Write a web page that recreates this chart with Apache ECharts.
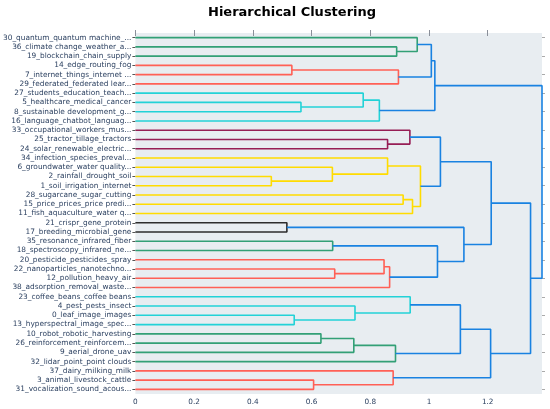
<!DOCTYPE html>
<html>
<head>
<meta charset="utf-8">
<script src="https://cdn.jsdelivr.net/npm/echarts@6/dist/echarts.min.js"></script>
<style>
html,body{margin:0;padding:0;background:#fff}
#main{width:550px;height:409px}
</style>
</head>
<body>
<div id="main"></div>
<script>
// leaf labels, top to bottom
var leaves = [
  '30_quantum_quantum machine_...', '36_climate change_weather_a...', '19_blockchain_chain_supply',
  '14_edge_routing_fog', '7_internet_things_internet ...', '29_federated_federated lear...',
  '27_students_education_teach...', '5_healthcare_medical_cancer', '8_sustainable development_g...',
  '16_language_chatbot_languag...', '33_occupational_workers_mus...', '25_tractor_tillage_tractors',
  '24_solar_renewable_electric...', '34_infection_species_preval...', '6_groundwater_water quality...',
  '2_rainfall_drought_soil', '1_soil_irrigation_internet', '28_sugarcane_sugar_cutting',
  '15_price_prices_price predi...', '11_fish_aquaculture_water q...', '21_crispr_gene_protein',
  '17_breeding_microbial_gene', '35_resonance_infrared_fiber', '18_spectroscopy_infrared_ne...',
  '20_pesticide_pesticides_spray', '22_nanoparticles_nanotechno...', '12_pollution_heavy_air',
  '38_adsorption_removal_waste...', '23_coffee_beans_coffee beans', '4_pest_pests_insect',
  '0_leaf_image_images', '13_hyperspectral_image_spec...', '10_robot_robotic_harvesting',
  '26_reinforcement_reinforcem...', '9_aerial_drone_uav', '32_lidar_point_point clouds',
  '37_dairy_milking_milk', '3_animal_livestock_cattle', '31_vocalization_sound_acous...'
];

// merges: [child a, child b, distance]; ids < 39 are leaves (row order), 39+k is merge k
var merges = [
  [1, 2, 0.89], [0, 39, 0.96], [3, 4, 0.533], [41, 5, 0.896], [40, 42, 1.008],
  [7, 8, 0.564], [6, 44, 0.776], [45, 9, 0.831], [43, 46, 1.02],
  [11, 12, 0.859], [10, 48, 0.935],
  [15, 16, 0.463], [14, 50, 0.671], [13, 51, 0.859], [17, 18, 0.912], [53, 19, 0.944], [52, 54, 0.971],
  [49, 55, 1.039],
  [20, 21, 0.516], [22, 23, 0.672], [25, 26, 0.679], [24, 59, 0.847], [60, 27, 0.866],
  [58, 61, 1.029], [57, 62, 1.119], [56, 63, 1.212],
  [30, 31, 0.541], [29, 65, 0.748], [28, 66, 0.936],
  [32, 33, 0.632], [68, 34, 0.744], [69, 35, 0.886], [67, 70, 1.107],
  [37, 38, 0.607], [36, 72, 0.878], [71, 73, 1.21],
  [64, 74, 1.346], [47, 75, 1.385]
];
var mergeColors = [
  'g', 'g', 'r', 'r', 'b',
  'c', 'c', 'c', 'b',
  'm', 'm',
  'y', 'y', 'y', 'y', 'y', 'y',
  'b',
  'k', 'g', 'r', 'r', 'r',
  'b', 'b', 'b',
  'c', 'c', 'c',
  'g', 'g', 'g', 'b',
  'r', 'r', 'b',
  'b', 'b'
];
var palette = {
  g: 'rgb(50,160,118)', r: 'rgb(255,96,86)', c: 'rgb(35,210,215)', m: 'rgb(150,30,85)',
  y: 'rgb(255,220,0)', k: 'rgb(45,45,45)', b: 'rgb(25,130,225)'
};
var xTicks = [0, 0.2, 0.4, 0.6, 0.8, 1, 1.2];
var xMax = 1.385;

// leaf rows sit at 5, 15, 25 ... and each merge sits halfway between its children
var pos = leaves.map(function (l, i) { return 5 + 10 * i; });
var hts = leaves.map(function () { return 0; });
merges.forEach(function (m) {
  pos.push((pos[m[0]] + pos[m[1]]) / 2);
  hts.push(m[2]);
});

var series = merges.map(function (m, i) {
  var a = m[0], b = m[1];
  return {
    type: 'line',
    xAxisIndex: 0,
    yAxisIndex: 0,
    showSymbol: false,
    silent: true,
    clip: false,
    lineStyle: { width: 1.6, color: palette[mergeColors[i]] },
    data: [[hts[a], pos[a]], [m[2], pos[a]], [m[2], pos[b]], [hts[b], pos[b]]]
  };
});

var labelColor = '#2a3f5f';
var tickColor = '#8a8f99';
var myChart = echarts.init(document.getElementById('main'));
myChart.setOption({
  animation: false,
  title: {
    text: 'Hierarchical Clustering',
    left: 203,
    top: 1,
    textStyle: { fontFamily: 'DejaVu Sans', fontSize: 13, fontWeight: 'bold', color: '#000' }
  },
  grid: {
    left: 133, right: 8, top: 33, bottom: 15,
    show: true, backgroundColor: '#E8EDF1', borderWidth: 0
  },
  xAxis: [{
    type: 'value', position: 'bottom', min: 0, max: xMax,
    axisLine: { show: false },
    splitLine: { show: false },
    axisTick: { show: true, length: 3, lineStyle: { color: tickColor }, customValues: xTicks },
    axisLabel: { color: labelColor, fontFamily: 'DejaVu Sans', fontSize: 7.3, margin: 5, customValues: xTicks }
  }, {
    type: 'value', position: 'top', min: 0, max: xMax,
    axisLine: { show: false },
    splitLine: { show: false },
    axisTick: { show: true, length: 3, lineStyle: { color: tickColor }, customValues: xTicks },
    axisLabel: { show: false }
  }],
  yAxis: [{
    type: 'value', min: 0, max: leaves.length * 10, inverse: true, show: false
  }, {
    type: 'category', position: 'left', inverse: true, data: leaves,
    axisLine: { show: false },
    axisTick: { show: true, alignWithLabel: true, length: 3, lineStyle: { color: '#555' } },
    axisLabel: { interval: 0, color: labelColor, fontFamily: 'DejaVu Sans', fontSize: 7.4, margin: 4 }
  }, {
    type: 'category', position: 'right', inverse: true, data: leaves,
    axisLine: { show: false },
    axisTick: { show: true, alignWithLabel: true, length: 3, lineStyle: { color: '#aaa' } },
    axisLabel: { show: false }
  }],
  series: series
});
</script>
</body>
</html>
